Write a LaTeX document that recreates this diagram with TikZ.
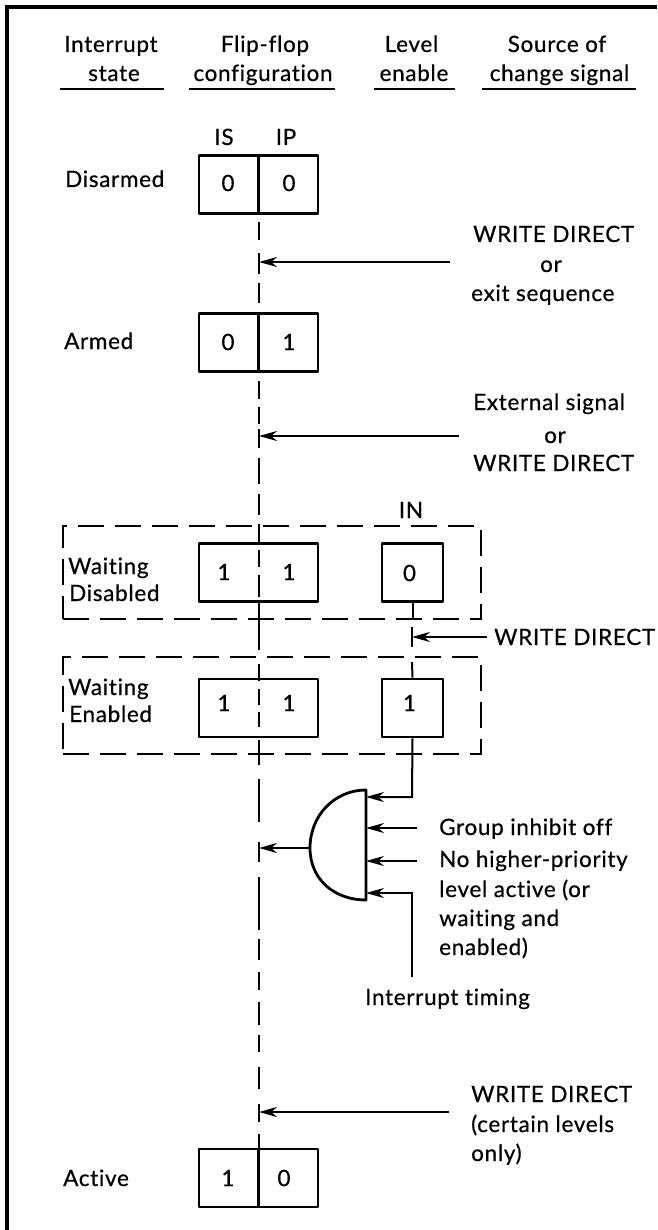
\documentclass[tikz,border=0pt]{standalone}
\usepackage{fontspec}
\setmainfont[FakeBold=0.5,LetterSpace=3,Ligatures=NoCommon]{Lato}
\usetikzlibrary{arrows.meta}
\tikzset{
  lab/.style={inner sep=0pt,font=\fontsize{22.5}{30}\selectfont,text=black},
  labl/.style={lab,anchor=base west,align=left},
  labc/.style={lab,anchor=base,align=center},
  cell/.style={draw,line width=2.8pt,line join=round,inner sep=0pt},
  bigcell/.style={cell,minimum width=119pt,minimum height=58pt},
  smallcell/.style={cell,minimum width=61pt,minimum height=58pt},
  val/.style={lab,anchor=center},
  sig/.style={line width=2pt,-{Stealth[length=18pt,width=10pt]}},
  wire/.style={line width=2pt},
  tick/.style={line width=2pt},
  encl/.style={draw,line width=2pt,dash pattern=on 26pt off 11pt,inner sep=0pt},
  rule/.style={line width=2pt},
}
\begin{document}
\begin{tikzpicture}[x=1pt,y=-1pt]
\useasboundingbox (0,0) rectangle (657,1230);
% frame
\coordinate (fa) at (7,1230);
\coordinate (fb) at (7,7);
\coordinate (fc) at (657,7);
\draw[line width=3.4pt] (fa) -- (fb) -- (fc);
% headers
\node[labc] (h1a) at (111,52) {Interrupt};
\node[labc] (h1b) at (114,81) {state};
\node[labc] (h2a) at (265,52) {Flip-flop};
\node[labc] (h2b) at (263,81) {configuration};
\node[labc] (h3a) at (411.5,52) {Level};
\node[labc] (h3b) at (414,81) {enable};
\node[labc] (h4a) at (557,52) {Source of};
\node[labc] (h4b) at (559.5,81) {change signal};
\coordinate (u1a) at (60,89); \coordinate (u1b) at (164,89);
\coordinate (u2a) at (189,89); \coordinate (u2b) at (335,89);
\coordinate (u3a) at (374,89); \coordinate (u3b) at (455,89);
\coordinate (u4a) at (482,89); \coordinate (u4b) at (636,89);
\draw[rule] (u1a)--(u1b) (u2a)--(u2b) (u3a)--(u3b) (u4a)--(u4b);
% IS IP
\node[labc] (is) at (224,145) {IS};
\node[labc] (ip) at (286,145) {IP};
% boxes
\node[bigcell] (b1) at (258.5,184.5) {};
\node[bigcell] (b2) at (258.5,342.5) {};
\node[bigcell] (b3) at (258.5,572.5) {};
\node[bigcell] (b4) at (258.5,708) {};
\node[bigcell] (b5) at (258.5,1178) {};
\node[smallcell] (c3) at (412.5,572.5) {};
\node[smallcell] (c4) at (412.5,708) {};
\draw[line width=2.2pt] (b1.north)--(b1.south) (b2.north)--(b2.south) (b5.north)--(b5.south);
% values
\node[val] (v1a) at (228,183) {0}; \node[val] (v1b) at (289,183) {0};
\node[val] (v2a) at (228,342) {0}; \node[val] (v2b) at (289,342) {1};
\node[val] (v3a) at (224,572) {1}; \node[val] (v3b) at (289,572) {1};
\node[val] (v4a) at (224,703) {1}; \node[val] (v4b) at (289,703) {1};
\node[val] (v5a) at (228,1178) {1}; \node[val] (v5b) at (284,1178) {0};
\node[val] (w3) at (409.5,573) {0};
\node[val] (w4) at (409.5,703) {1};
\node[labc] (in) at (411,518) {IN};
% state labels
\node[labl] (s1) at (65,187) {Disarmed};
\node[labl] (s2) at (64,349) {Armed};
\node[labl] (s3) at (68,574) {Waiting};
\node[labl] (s3b) at (69,601) {Disabled};
\node[labl] (s4) at (68,695) {Waiting};
\node[labl] (s4b) at (69,722) {Enabled};
\node[labl] (s5) at (63,1186) {Active};
% enclosures
\node[encl,minimum width=418pt,minimum height=93pt] (e1) at (272,572.5) {};
\node[encl,minimum width=418pt,minimum height=97pt] (e2) at (272,705.5) {};
% main dashed line
\draw[wire,dash pattern=on 0pt off 7pt on 18pt off 13pt on 21pt off 9pt on 20pt off 12pt]
  (b1.south) -- (b2.north);
\draw[wire,dash pattern=on 0pt off 8pt on 18pt off 8pt on 17pt off 5pt on 19pt off 10pt on 26pt off 10pt on 21pt off 9pt on 18pt off 8pt on 17pt off 8pt on 22pt off 6pt on 24pt off 0pt on 23pt off 14pt on 17pt off 8pt on 16pt off 7pt on 15pt off 13pt on 25pt off 14pt on 43pt off 20pt on 20pt off 15pt on 53pt off 9pt on 21pt off 12pt on 18pt off 12pt on 23pt off 10pt on 17pt off 15pt on 22pt off 15pt on 18pt off 12pt on 17pt]
  (b2.south) -- (b5.north);
% IN stems
\draw[wire] (c3.south) -- (e1.south -| c3.south);
\coordinate (t1) at (412,662);
\draw[wire] (t1) -- (c4.north);
% source arrows with ticks
\coordinate (a1) at (450,262); \coordinate (t1a) at (259,262);
\draw[sig] (a1) -- (t1a);
\coordinate (a2) at (459,436); \coordinate (t2a) at (259,436);
\draw[sig] (a2) -- (t2a);
\coordinate (a3) at (487,637); \coordinate (t3a) at (412,637);
\draw[sig] (a3) -- (t3a);
\coordinate (t3t) at (412,627); \coordinate (t3b) at (412,647);
\draw[tick] (t3t) -- (t3b);
\coordinate (a4) at (449,1112); \coordinate (t4a) at (259,1112);
\draw[sig] (a4) -- (t4a);
% gate
\coordinate (gt) at (366,790);
\coordinate (gb) at (366,900);
\coordinate (gl) at (310,848);
\draw[line width=2.8pt,line join=round] (gt) .. controls (335,790) and (310,815) .. (gl)
   .. controls (310,880) and (335,900) .. (gb) -- cycle;
\coordinate (g1) at (366,797);
\coordinate (g2) at (366,828);
\coordinate (g3) at (366,861);
\coordinate (g4) at (366,893);
\coordinate (k1) at (412,797);
\draw[sig] (c4.south) -- (k1) -- (g1);
\coordinate (i2) at (417,828); \draw[sig] (i2) -- (g2);
\coordinate (i3) at (417,861); \draw[sig] (i3) -- (g3);
\coordinate (i4) at (412,977); \coordinate (k4) at (412,893);
\draw[sig] (i4) -- (k4) -- (g4);
\coordinate (o1) at (259,848);
\draw[sig] (gl) -- (o1);
% right text
\node[labl] (r1) at (473,242) {WRITE DIRECT};
\node[labc] (r1b) at (551,272) {or};
\node[labl] (r1c) at (471,301) {exit sequence};
\node[labl] (r2) at (473,410) {External signal};
\node[labc] (r2b) at (555,443) {or};
\node[labl] (r2c) at (473,471) {WRITE DIRECT};
\node[labl] (r3) at (494,645) {WRITE DIRECT};
\node[labl] (r4) at (439,835) {Group inhibit off};
\node[labl] (r5) at (439,867) {No higher-priority};
\node[labl] (r5b) at (439,897) {level active (or};
\node[labl] (r5c) at (439,926) {waiting and};
\node[labl] (r5d) at (439,955) {enabled)};
\node[labl] (r6) at (365,1005) {Interrupt timing};
\node[labl] (r7) at (471,1102) {WRITE DIRECT};
\node[labl] (r7b) at (471,1132) {(certain levels};
\node[labl] (r7c) at (471,1161) {only)};
\end{tikzpicture}
\end{document}
